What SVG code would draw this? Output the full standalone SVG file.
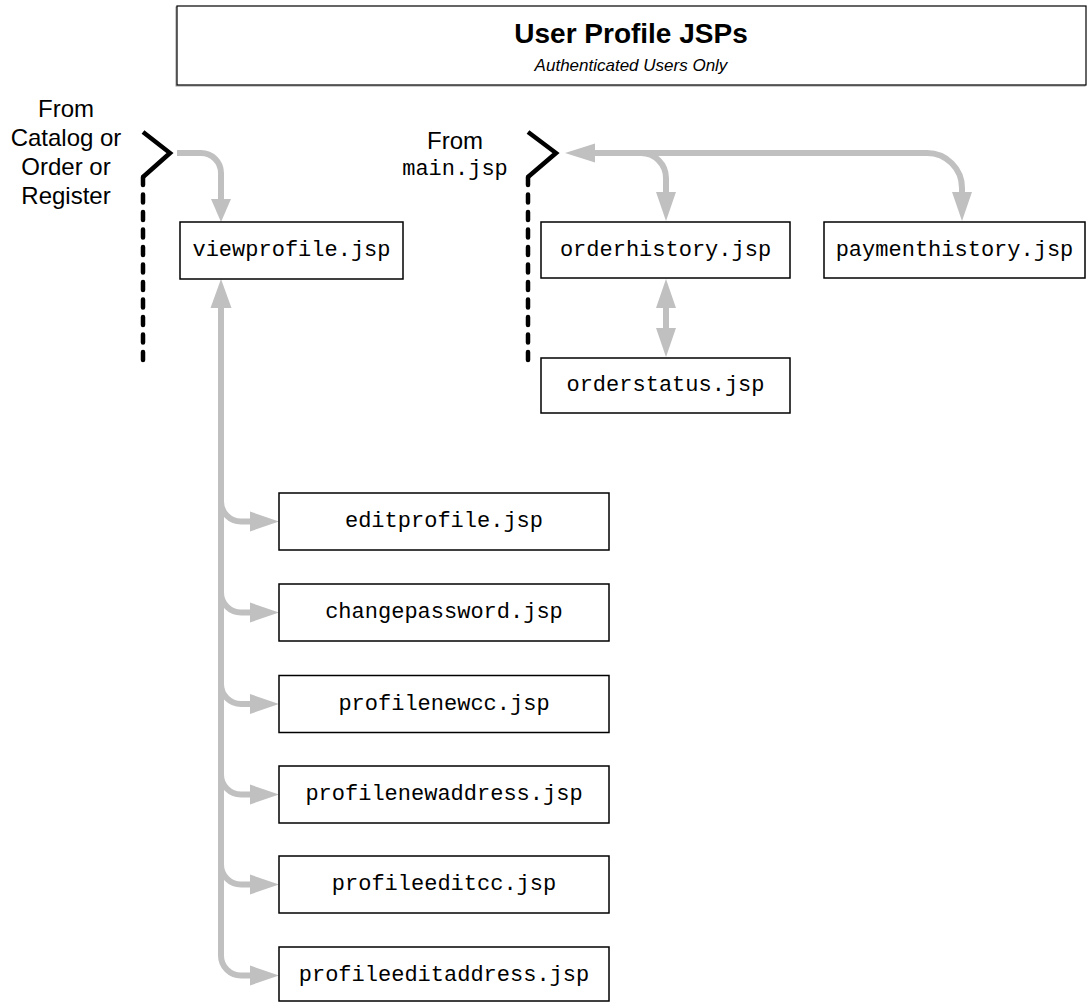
<svg xmlns="http://www.w3.org/2000/svg" width="1090" height="1002" viewBox="0 0 1090 1002">
<style>
.box{fill:#fff;stroke:#000;stroke-width:1.5}
.mono{font-family:"Liberation Mono","Courier New",monospace;font-size:22px;fill:#000;text-anchor:middle}
.sans{font-family:"Liberation Sans",Arial,sans-serif;font-size:24px;fill:#000;text-anchor:middle}
.conn{fill:none;stroke:#c0c0c0;stroke-width:6}
.ah{fill:#c0c0c0;stroke:none}
.brk{fill:none;stroke:#000;stroke-width:4.5;stroke-linejoin:miter}
.dash{fill:none;stroke:#000;stroke-width:4.5;stroke-linecap:round;stroke-dasharray:8 9.5}
</style>
<rect width="1090" height="1002" fill="#fff"/>

<g id="title">
  <rect x="176" y="7" width="909" height="79" fill="none" stroke="#999" stroke-width="1"/>
  <rect x="177" y="6" width="909" height="79" fill="#fff" stroke="#000" stroke-width="1.2"/>
  <text x="631" y="43" font-family="'Liberation Sans',Arial,sans-serif" font-size="28" font-weight="bold" text-anchor="middle">User Profile JSPs</text>
  <text x="631" y="71" font-family="'Liberation Sans',Arial,sans-serif" font-size="17" font-style="italic" text-anchor="middle">Authenticated Users Only</text>
</g>

<g id="entry-left">
  <text class="sans" x="66" y="117">From</text>
  <text class="sans" x="66" y="146">Catalog or</text>
  <text class="sans" x="66" y="175">Order or</text>
  <text class="sans" x="66" y="204">Register</text>
  <path class="brk" d="M143,132 L170,153 L143,177"/>
  <path class="dash" d="M143,177 V360"/>
</g>

<g id="entry-main">
  <text class="sans" x="455" y="149">From</text>
  <text class="mono" x="455" y="175">main.jsp</text>
  <path class="brk" d="M528,132 L556,153 L528,177"/>
  <path class="dash" d="M528,177 V360"/>
</g>

<g id="connectors">
  <path class="conn" d="M177,153 H201 A20,20 0 0 1 221,173 V200"/>
  <polygon class="ah" points="211,199 231,199 221,222"/>
  <path class="conn" d="M221,306 V955.5 A20,20 0 0 0 241,975.5 H251"/>
  <polygon class="ah" points="210.5,308 231.5,308 221,279"/>
  <path class="conn" d="M221,501.5 A20,20 0 0 0 241,521.5 H251"/>
  <path class="conn" d="M221,592.5 A20,20 0 0 0 241,612.5 H251"/>
  <path class="conn" d="M221,684 A20,20 0 0 0 241,704 H251"/>
  <path class="conn" d="M221,774.5 A20,20 0 0 0 241,794.5 H251"/>
  <path class="conn" d="M221,864.5 A20,20 0 0 0 241,884.5 H251"/>
  <polygon class="ah" points="250,511.5 279,521.5 250,531.5"/>
  <polygon class="ah" points="250,602.5 279,612.5 250,622.5"/>
  <polygon class="ah" points="250,694 279,704 250,714"/>
  <polygon class="ah" points="250,784.5 279,794.5 250,804.5"/>
  <polygon class="ah" points="250,874.5 279,884.5 250,894.5"/>
  <polygon class="ah" points="250,965.5 279,975.5 250,985.5"/>

  <path class="conn" d="M593,153 H927 A35,35 0 0 1 962,188 V194"/>
  <polygon class="ah" points="595,143.5 595,162.5 565,153"/>
  <path class="conn" d="M641,153 A25,25 0 0 1 666,178 V194"/>
  <polygon class="ah" points="656,192 676,192 666,221"/>
  <polygon class="ah" points="952,192 972,192 962,221"/>
  <path class="conn" d="M666,306 V330"/>
  <polygon class="ah" points="656,308 676,308 666,279"/>
  <polygon class="ah" points="656,328 676,328 666,357"/>
</g>

<g id="viewprofile">
  <rect class="box" x="180" y="222" width="223" height="57"/>
  <text class="mono" x="291.5" y="256">viewprofile.jsp</text>
</g>
<g id="orderhistory">
  <rect class="box" x="541" y="222" width="249" height="56"/>
  <text class="mono" x="665.5" y="256">orderhistory.jsp</text>
</g>
<g id="paymenthistory">
  <rect class="box" x="824" y="222" width="261" height="56" stroke-width="1.2"/>
  <text class="mono" x="954.5" y="256">paymenthistory.jsp</text>
</g>
<g id="orderstatus">
  <rect class="box" x="541" y="358" width="249" height="55"/>
  <text class="mono" x="665.5" y="391">orderstatus.jsp</text>
</g>
<g id="editprofile">
  <rect class="box" x="279" y="493" width="330" height="57"/>
  <text class="mono" x="444" y="527">editprofile.jsp</text>
</g>
<g id="changepassword">
  <rect class="box" x="279" y="584" width="330" height="57"/>
  <text class="mono" x="444" y="618">changepassword.jsp</text>
</g>
<g id="profilenewcc">
  <rect class="box" x="279" y="675.5" width="330" height="57"/>
  <text class="mono" x="444" y="709.5">profilenewcc.jsp</text>
</g>
<g id="profilenewaddress">
  <rect class="box" x="279" y="766" width="330" height="57"/>
  <text class="mono" x="444" y="800">profilenewaddress.jsp</text>
</g>
<g id="profileeditcc">
  <rect class="box" x="279" y="856" width="330" height="57"/>
  <text class="mono" x="444" y="890">profileeditcc.jsp</text>
</g>
<g id="profileeditaddress">
  <rect class="box" x="279" y="947" width="330" height="54"/>
  <text class="mono" x="444" y="981">profileeditaddress.jsp</text>
</g>
</svg>
